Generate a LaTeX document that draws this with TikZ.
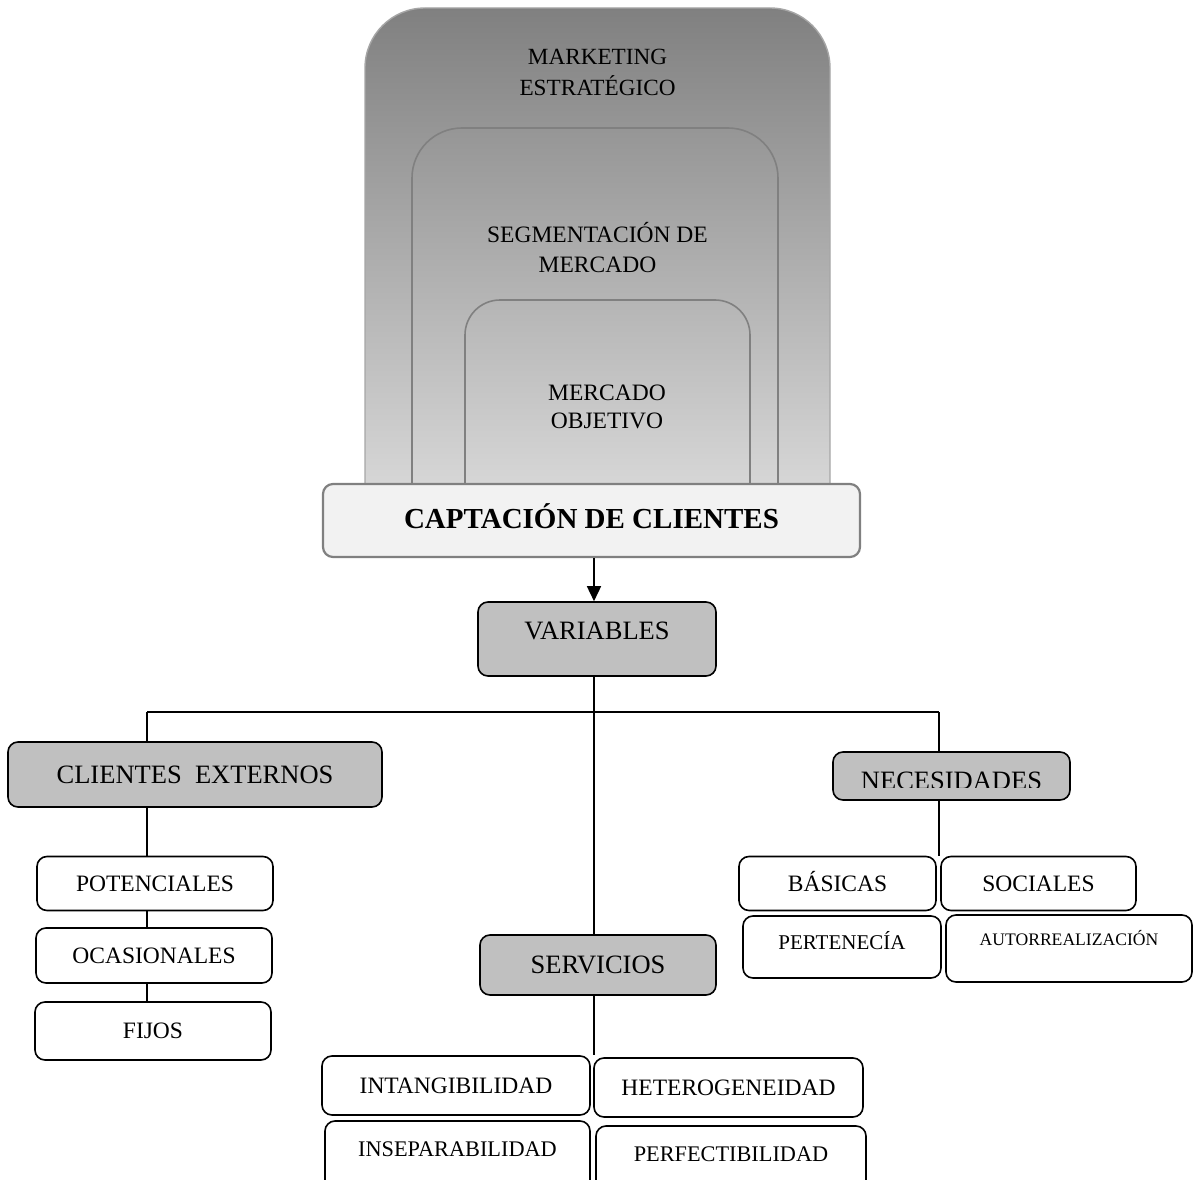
\documentclass[tikz,border=0pt]{standalone}
\usepackage{fontspec}
\setmainfont{Liberation Serif}
\usetikzlibrary{arrows.meta,calc}
\definecolor{boxgray}{HTML}{C0C0C0}
\definecolor{rimgray}{HTML}{808080}
\definecolor{capfill}{HTML}{F2F2F2}
\begin{document}
\begin{tikzpicture}[x=1pt,y=-1pt,
  base/.style={draw=black,line width=1.6pt,rounded corners=10pt,inner sep=0pt,text depth=0pt},
  head/.style={base,fill=boxgray,font=\fontsize{26.5}{30}\selectfont,text height=17.5pt},
  item/.style={base,fill=white,font=\fontsize{23.5}{28}\selectfont,text height=15.5pt},
  small/.style={base,fill=white,font=\fontsize{22.3}{26}\selectfont,text height=14.7pt},
  link/.style={line width=1.6pt},
  rim/.style={draw=rimgray,line width=1.6pt},
  layer/.style={align=center,inner sep=0pt}]
\useasboundingbox (0,0) rectangle (1195,1180);

% nested layers, one continuous vertical gradient
\shade[top color=rimgray,bottom color=black!11,draw=black!35,line width=1.4pt,
  rounded corners=60pt] (365,555) -- (365,8) -- (830,8) -- (830,555) -- cycle;
\draw[rim,rounded corners=50pt] (412,555) -- (412,128) -- (778,128) -- (778,555);
\draw[rim,rounded corners=35pt] (465,555) -- (465,300) -- (750,300) -- (750,555);

\node[layer,font=\fontsize{23.2}{31.5}\selectfont] (mkt) at (597.5,72.5) {MARKETING\\ESTRATÉGICO};
\node[layer,font=\fontsize{23.5}{30}\selectfont] (seg) at (597.5,247.5) {SEGMENTACIÓN DE\\MERCADO};
\node[layer,font=\fontsize{23.5}{28}\selectfont] (obj) at (607,406.5) {MERCADO\\OBJETIVO};

% main box
\node[draw=rimgray,fill=capfill,line width=2.2pt,rounded corners=10pt,inner sep=0pt,
  minimum width=537pt,minimum height=73pt,text height=19.5pt,text depth=4pt,
  font=\fontsize{29}{32}\selectfont\bfseries] (cap) at (591.5,520.5) {CAPTACIÓN DE CLIENTES};

% first level
\node[head,minimum width=238pt,minimum height=74pt,text depth=16pt] (var) at (597,639) {VARIABLES};
\node[head,minimum width=374pt,minimum height=65pt] (ce) at (195,774.5) {CLIENTES~~EXTERNOS};
\node[head,minimum width=237pt,minimum height=48pt] (ne) at (951.5,776) {};
\begin{scope}
  \clip (833,750) rectangle (1072,787);
  \node[base,draw=none,font=\fontsize{26.5}{30}\selectfont,text height=17.5pt] (netext) at (951.5,780.5) {NECESIDADES};
\end{scope}
\node[head,minimum width=236pt,minimum height=60pt] (serv) at (598,965) {SERVICIOS};

% clients
\node[item,minimum width=236pt,minimum height=54pt] (pot) at (155,883.5) {POTENCIALES};
\node[item,minimum width=236pt,minimum height=55pt] (oca) at (154,955.5) {OCASIONALES};
\node[item,minimum width=236pt,minimum height=58pt] (fij) at (153,1031) {FIJOS};

% needs
\node[item,minimum width=197pt,minimum height=54pt] (bas) at (837.5,883.5) {BÁSICAS};
\node[item,minimum width=195pt,minimum height=54pt] (soc) at (1038.5,883.5) {SOCIALES};
\node[base,fill=white,font=\fontsize{21}{24}\selectfont,text height=13.9pt,minimum width=198pt,
  minimum height=62pt,text depth=8pt] (per) at (842,947) {PERTENECÍA};
\node[base,fill=white,font=\fontsize{17.6}{20}\selectfont,text height=11.6pt,minimum width=246pt,
  minimum height=67pt,text depth=17pt] (aut) at (1069,948.5) {AUTORREALIZACIÓN};

% services
\node[item,minimum width=268pt,minimum height=59pt] (int) at (456,1085.5) {INTANGIBILIDAD};
\node[item,minimum width=269pt,minimum height=59pt] (het) at (728.5,1087.5) {HETEROGENEIDAD};
\node[small,minimum width=265pt,minimum height=69pt,text depth=13pt] (ins) at (457.5,1155.5) {INSEPARABILIDAD};
\node[small,minimum width=270pt,minimum height=64pt,text depth=8pt] (perf) at (731,1158) {PERFECTIBILIDAD};

% connectors
\coordinate (spine) at (594,0);
\coordinate (bl) at (147,712);
\coordinate (br) at (939,712);
\draw[link,-{Triangle[width=14pt,length=15pt]}] (spine |- cap.south) -- (spine |- var.north);
\draw[link] (spine |- var.south) -- (spine |- serv.north);
\draw[link] (spine |- serv.south) -- (spine |- int.north);
\draw[link] (bl) -- (br);
\draw[link] (bl) -- (bl |- ce.north);
\draw[link] (br) -- (br |- ne.north);
\draw[link] (bl |- ce.south) -- (bl |- pot.north);
\draw[link] (bl |- pot.south) -- (bl |- oca.north);
\draw[link] (bl |- oca.south) -- (bl |- fij.north);
\draw[link] (br |- ne.south) -- (br |- bas.north);
\end{tikzpicture}
\end{document}
